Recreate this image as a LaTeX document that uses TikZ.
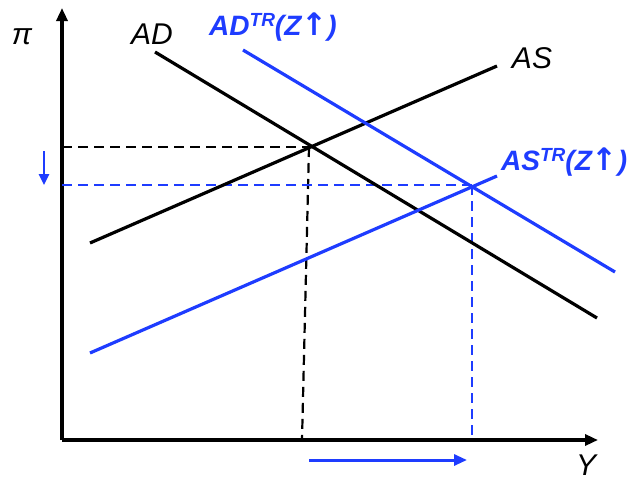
\documentclass[tikz,border=0pt]{standalone}
\usepackage{fontspec}
\setmainfont{Liberation Sans}
\newfontfamily\dejavu{DejaVu Sans}
\usetikzlibrary{arrows.meta}
\definecolor{myblue}{RGB}{30,60,255}
\newcommand{\myup}{{\dejavu\bfseries\upshape\fontsize{31}{31}\selectfont ↑}}
\tikzset{
  curve/.style={line width=3.2pt},
  guide/.style={line width=2.2pt, dash pattern=on 10pt off 6pt},
  axis/.style={line width=3.2pt, -{Triangle[length=13pt,width=11pt]}},
  shiftarrow/.style={line width=3pt, myblue, -{Triangle[length=13pt,width=11pt]}},
  lbl/.style={font=\fontsize{30}{32}\selectfont\itshape, inner sep=0pt},
  blbl/.style={font=\fontsize{28}{30}\selectfont\bfseries\itshape, text=myblue, inner sep=0pt}
}
\begin{document}
\begin{tikzpicture}[x=1pt,y=-1pt]
\useasboundingbox (0,0) rectangle (635,482);
% axes
\coordinate (O) at (62,440);
\coordinate (ytop) at (62,8);
\coordinate (xend) at (598,440);
\draw[axis] (O) -- (ytop);
\draw[axis] (O) -- (xend);
% curves
\coordinate (ad1) at (155,52);  \coordinate (ad2) at (597,318);
\coordinate (as1) at (90,243);  \coordinate (as2) at (497,66);
\coordinate (adt1) at (243,50); \coordinate (adt2) at (615,272);
\coordinate (ast1) at (90,353); \coordinate (ast2) at (497,176);
% guides
\coordinate (e1) at (309,147);
\coordinate (e1y) at (62,147);
\coordinate (e1x) at (302,440);
\coordinate (e2) at (472,185);
\coordinate (e2y) at (62,185);
\coordinate (e2x) at (472,440);
\draw[guide] (e1y) -- (e1);
\draw[guide] (e1) -- (e1x);
\draw[guide, myblue] (e2y) -- (e2);
\draw[guide, myblue] (e2) -- (e2x);
\draw[curve] (ad1) -- (ad2);
\draw[curve] (as1) -- (as2);
\draw[curve, myblue] (adt1) -- (adt2);
\draw[curve, myblue] (ast1) -- (ast2);
% shift arrows
\coordinate (pdA) at (44,151); \coordinate (pdB) at (44,185);
\draw[line width=2.6pt, myblue, -{Triangle[length=11pt,width=10pt]}] (pdA) -- (pdB);
\coordinate (ysA) at (309,460); \coordinate (ysB) at (467,460);
\draw[shiftarrow] (ysA) -- (ysB);
% labels
\node[lbl] (pi) at (22,37) {π};
\node[lbl] (lAD) at (152,34) {AD};
\node[lbl] (lAS) at (532,58) {AS};
\node[lbl] (lY) at (586,465) {Y};
\node[blbl, anchor=west] (lADT) at (209,27) {AD\raisebox{9pt}{\fontsize{19}{19}\selectfont TR}(Z\myup)};
\node[blbl, anchor=west] (lAST) at (501,162) {AS\raisebox{9pt}{\fontsize{19}{19}\selectfont TR}(Z\myup)};
\end{tikzpicture}
\end{document}
